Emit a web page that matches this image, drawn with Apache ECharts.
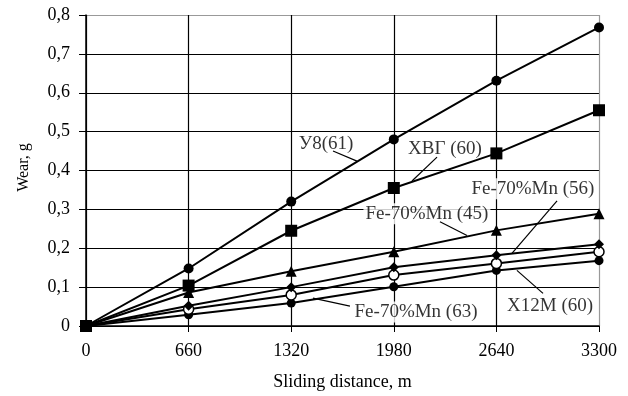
<!DOCTYPE html>
<html>
<head>
<meta charset="utf-8">
<script src="https://cdn.jsdelivr.net/npm/echarts@6/dist/echarts.min.js"></script>
<style>html,body{margin:0;padding:0;background:#fff}#c{width:628px;height:396px}</style>
</head>
<body>
<div id="c"></div>
<script>
// ---- data ----
var xValues = [0, 660, 1320, 1980, 2640, 3300];
var xTickLabels = ['0', '660', '1320', '1980', '2640', '3300'];
var yTickLabels = ['0', '0,1', '0,2', '0,3', '0,4', '0,5', '0,6', '0,7', '0,8'];

var u8_61   = [0, 0.148, 0.320, 0.480, 0.631, 0.768];
var hvg_60  = [0, 0.104, 0.245, 0.355, 0.444, 0.555];
var fe_45   = [0, 0.086, 0.141, 0.191, 0.246, 0.289];
var fe_56   = [0, 0.052, 0.100, 0.151, 0.182, 0.210];
var x12m_60 = [0, 0.043, 0.080, 0.131, 0.161, 0.191];
var fe_63   = [0, 0.029, 0.059, 0.101, 0.143, 0.168];

// annotation texts and anchor points (data units)
var annoText = ['У8(61)', 'ХВГ (60)', 'Fe-70%Mn (56)', 'Fe-70%Mn (45)', 'Fe-70%Mn (63)', 'Х12М (60)'];
var annoAt = [[1544, 0.468], [2309, 0.455], [2875, 0.353], [2193, 0.289], [2123, 0.036], [2985, 0.051]];
var leaderFrom = [[1589, 0.450], [2258, 0.4345], [3030, 0.322], [2277, 0.268], [1698, 0.051], [2940, 0.084]];
var leaderTo   = [[1743, 0.424], [2097, 0.373], [2740, 0.187], [2451, 0.233], [1460, 0.0716], [2772, 0.143]];

var FONT = 'Liberation Serif';

function pairs(ys) { return xValues.map(function (x, i) { return [x, ys[i]]; }); }

function lineSeries(name, ys, symbol, size, fill, z) {
  return {
    name: name, type: 'line', data: pairs(ys), z: z || 3,
    symbol: symbol, symbolSize: size, showSymbol: true,
    lineStyle: { color: '#000', width: 2 },
    itemStyle: { color: fill, borderColor: '#000', borderWidth: fill === '#fff' ? 1.5 : 0 },
    animation: false
  };
}

var chart = echarts.init(document.getElementById('c'), null, { renderer: 'canvas' });

var yGridColors = [];
for (var i = 0; i < yTickLabels.length; i++) yGridColors.push(i === yTickLabels.length - 1 ? '#999' : '#000');
var xGridColors = [];
for (var j = 0; j < xValues.length; j++) xGridColors.push(j === xValues.length - 1 ? '#999' : '#000');

chart.setOption({
  animation: false,
  backgroundColor: '#fff',
  grid: { left: 86, right: 29, top: 15, bottom: 68, containLabel: false },
  xAxis: {
    type: 'value', min: 0, max: 3300, interval: 660,
    name: 'Sliding distance, m', nameLocation: 'middle', nameGap: 47,
    nameTextStyle: { fontFamily: FONT, fontSize: 18, color: '#000' },
    axisLine: { show: true, lineStyle: { color: '#000', width: 1.5 } },
    axisTick: { show: true, inside: false, length: 6, lineStyle: { color: '#000' } },
    axisLabel: {
      fontFamily: FONT, fontSize: 18, color: '#000', margin: 16,
      formatter: function (v) { var k = xValues.indexOf(v); return k >= 0 ? xTickLabels[k] : ''; }
    },
    splitLine: { show: true, lineStyle: { color: xGridColors, width: 1.2 } }
  },
  yAxis: {
    type: 'value', min: 0, max: 0.8, interval: 0.1,
    name: 'Wear, g', nameLocation: 'middle', nameGap: 54, nameRotate: 90,
    nameTextStyle: { fontFamily: FONT, fontSize: 16, color: '#000', padding: [0, 0, 0, 6] },
    axisLine: { show: true, lineStyle: { color: '#000', width: 1.5 } },
    axisTick: { show: true, inside: false, length: 7, lineStyle: { color: '#000' } },
    axisLabel: {
      fontFamily: FONT, fontSize: 18, color: '#000', margin: 16,
      formatter: function (v) { var k = Math.round(v * 10); return yTickLabels[k] || ''; }
    },
    splitLine: { show: true, lineStyle: { color: yGridColors, width: 1.2 } }
  },
  series: [
    {
      name: 'labels', type: 'scatter', z: 1, symbolSize: 0, silent: true,
      data: annoAt.map(function (p, i) { return { value: [p[0], p[1]], name: annoText[i] }; }),
      label: {
        show: true, position: 'inside', formatter: '{b}',
        fontFamily: FONT, fontSize: 19, color: '#000',
        backgroundColor: '#fff', padding: [1, 2]
      }
    },
    {
      name: 'leaders', type: 'lines', coordinateSystem: 'cartesian2d', z: 2, silent: true,
      symbol: 'none',
      lineStyle: { color: '#000', width: 1.2, opacity: 1 },
      data: leaderFrom.map(function (p, i) { return { coords: [p, leaderTo[i]] }; })
    },
    lineSeries('Fe-70%Mn (63)', fe_63, 'circle', 9, '#000', 3),
    lineSeries('Х12М (60)', x12m_60, 'circle', 10, '#fff', 3),
    lineSeries('Fe-70%Mn (56)', fe_56, 'diamond', 10, '#000', 3),
    lineSeries('Fe-70%Mn (45)', fe_45, 'triangle', 11, '#000', 3),
    lineSeries('У8(61)', u8_61, 'circle', 10, '#000', 3),
    lineSeries('ХВГ (60)', hvg_60, 'rect', 12, '#000', 4)
  ]
});
</script>
</body>
</html>
